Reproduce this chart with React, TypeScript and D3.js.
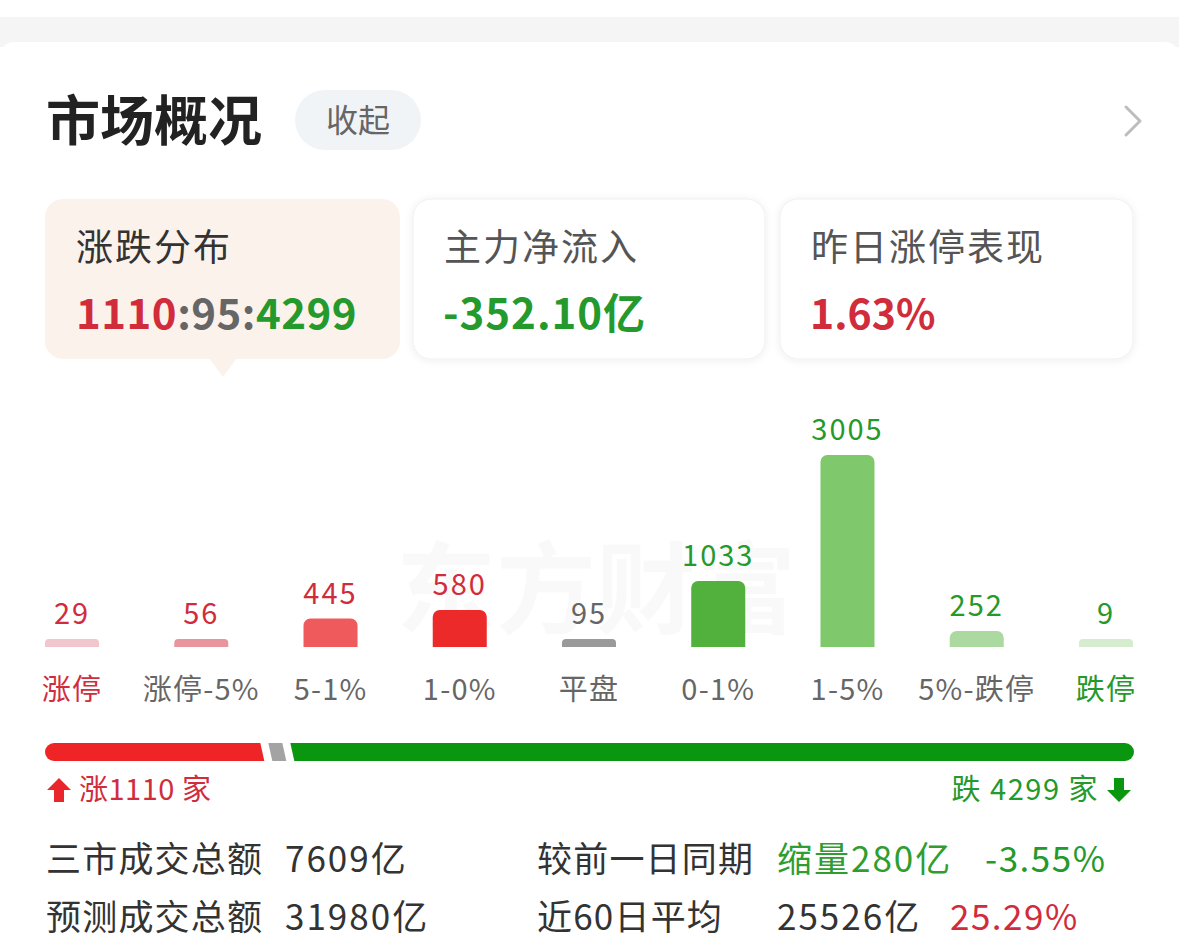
import React from "react";
import * as d3 from "d3";

// ---------- data ----------
const categories = ["涨停", "涨停-5%", "5-1%", "1-0%", "平盘", "0-1%", "1-5%", "5%-跌停", "跌停"];
const counts = [29, 56, 445, 580, 95, 1033, 3005, 252, 9];
const upCount = 1110;
const flatCount = 95;
const downCount = 4299;
const cardTitles = ["涨跌分布", "主力净流入", "昨日涨停表现"];
const netInflow = "-352.10亿";
const limitUpPerf = "1.63%";
const turnoverLabels = ["三市成交总额", "预测成交总额"];
const turnoverValues = ["7609亿", "31980亿"];
const compareLabels = ["较前一日同期", "近60日平均"];
const compareValues = ["缩量280亿", "25526亿"];
const comparePcts = ["-3.55%", "25.29%"];

// ---------- styles ----------
const FONT = "'Noto Sans CJK SC', 'Noto Sans', sans-serif";
const RED = "#d12c3c";
const GREEN = "#24992c";
const GRAY = "#666";
const barColors = ["#f2c6cd", "#e9959d", "#ef5b5d", "#ec2a2a", "#9a9a9a", "#52b03c", "#7fc96c", "#acd9a0", "#d5ecce"];
const valueColors = [RED, RED, RED, RED, GRAY, GREEN, GREEN, GREEN, GREEN];
const catColors = [RED, GRAY, GRAY, GRAY, GRAY, GRAY, GRAY, GRAY, GREEN];

const W = 1179;
const H = 952;

function topRounded(x: number, y: number, w: number, h: number, r: number) {
  const rr = Math.min(r, h / 2, w / 2);
  return `M${x},${y + h}V${y + rr}A${rr},${rr} 0 0 1 ${x + rr},${y}H${x + w - rr}A${rr},${rr} 0 0 1 ${x + w},${y + rr}V${y + h}Z`;
}

export default function App() {
  // bar chart scales
  const x = d3.scaleBand<string>().domain(categories).range([7.4, 1170.6]).paddingInner(0.582).paddingOuter(0.291);
  const baseY = 647;
  const h = d3.scaleLinear().domain([0, d3.max(counts) as number]).range([0, 192]);
  const minH = 8;

  // progress bar scale
  const gap = 8;
  const grayW = 14;
  const pbLeft = 45;
  const pbRight = 1134;
  const px = d3.scaleLinear().domain([0, upCount + downCount]).range([pbLeft, pbRight - 2 * gap - grayW]);
  const pbTop = 743;
  const pbH = 18;
  const slant = 4;
  const redEnd = px(upCount);
  const grayStart = redEnd + gap;
  const grayEnd = grayStart + grayW;
  const greenStart = grayEnd + gap;
  const greenEnd = px(upCount + downCount) + 2 * gap + grayW;
  const r = pbH / 2;

  const redPath = `M${pbLeft + r},${pbTop}H${redEnd - slant / 2}L${redEnd + slant / 2},${pbTop + pbH}H${pbLeft + r}A${r},${r} 0 0 1 ${pbLeft + r},${pbTop}Z`;
  const grayPath = `M${grayStart - slant / 2},${pbTop}H${grayEnd - slant / 2}L${grayEnd + slant / 2},${pbTop + pbH}H${grayStart + slant / 2}Z`;
  const greenPath = `M${greenStart - slant / 2},${pbTop}H${greenEnd - r}A${r},${r} 0 0 1 ${greenEnd - r},${pbTop + pbH}H${greenStart + slant / 2}Z`;

  const cards = [
    { x: 45, w: 355, bg: "#fcf2ec", shadow: false },
    { x: 413, w: 352, bg: "#fff", shadow: true },
    { x: 780, w: 353, bg: "#fff", shadow: true },
  ];

  return (
    <svg
      width={W}
      height={H}
      viewBox={`0 0 ${W} ${H}`}
      style={{ position: "absolute", left: 0, top: 0, display: "block", background: "#fff" }}
      fontFamily={FONT}
    >
      <defs>
        <filter id="sh" x="-10%" y="-10%" width="120%" height="130%">
          <feDropShadow dx="0" dy="1" stdDeviation="4" floodColor="#000" floodOpacity="0.07" />
        </filter>
      </defs>
      {/* top band */}
      <rect x={0} y={0} width={W} height={H} fill="#fff" />
      <rect x={0} y={17} width={W} height={30} fill="#f5f5f5" />
      <rect x={0} y={42} width={W} height={H} rx={14} fill="#fff" />

      {/* header */}
      <text x={46} y={141} fontSize={54} fontWeight={700} fill="#222">市场概况</text>
      <rect x={295} y={90} width={126} height={60} rx={30} fill="#f1f4f6" />
      <text x={358} y={132} fontSize={32} fill="#666" textAnchor="middle">收起</text>
      <polyline points="1126,107 1140,121 1126,135" fill="none" stroke="#bdbdbd" strokeWidth={3} strokeLinecap="round" strokeLinejoin="round" />

      {/* cards */}
      {cards.map((c, i) => (
        <rect key={i} x={c.x} y={199} width={c.w} height={160} rx={18} fill={c.bg}
          stroke={c.shadow ? "#efefef" : "none"} filter={c.shadow ? "url(#sh)" : undefined} />
      ))}
      <path d="M209,358 L223,377 L237,358 Z" fill="#fcf2ec" />
      {cardTitles.map((t, i) => (
        <text key={t} x={cards[i].x + 31} y={261} fontSize={37} letterSpacing={2} fill={i === 0 ? "#333" : "#555"}>{t}</text>
      ))}
      <text x={76} y={329} fontSize={42} fontWeight={600} letterSpacing={0.5}>
        <tspan fill={RED}>{upCount}</tspan>
        <tspan fill="#666">:{flatCount}:</tspan>
        <tspan fill={GREEN}>{downCount}</tspan>
      </text>
      <text x={443} y={329} fontSize={42} fontWeight={600} letterSpacing={1} fill={GREEN}>{netInflow}</text>
      <text x={810} y={329} fontSize={41} fontWeight={600} fill={RED}>{limitUpPerf}</text>

      {/* watermark */}
      <text x={596} y={626} fontSize={100} fontWeight={700} fill="#000" fillOpacity={0.025} textAnchor="middle">东方财富</text>

      {/* bars */}
      {categories.map((c, i) => {
        const bh = Math.max(minH, h(counts[i]));
        const bx = x(c) as number;
        const bw = x.bandwidth();
        const cx = bx + bw / 2;
        return (
          <g key={c}>
            <path d={topRounded(bx, baseY - bh, bw, bh, 7)} fill={barColors[i]} />
            <text x={cx} y={baseY - bh - 15} fontSize={29} fill={valueColors[i]} textAnchor="middle" letterSpacing={2}>{counts[i]}</text>
            <text x={cx} y={700} fontSize={29} fill={catColors[i]} textAnchor="middle" letterSpacing={1.2}>{c}</text>
          </g>
        );
      })}

      {/* progress bar */}
      <path d={redPath} fill="#ee2426" />
      <path d={grayPath} fill="#a3a3a3" />
      <path d={greenPath} fill="#0a960e" />

      {/* up / down labels */}
      <path d="M59,778 L71,790 L64,790 L64,802 L54,802 L54,790 L47,790 Z" fill="#e8262b" />
      <text x={79} y={800} fontSize={29} fill={RED} letterSpacing={0.5}>涨1110 家</text>
      <text x={1099} y={800} fontSize={29} fill={GREEN} textAnchor="end" letterSpacing={1.5}>跌 {downCount} 家</text>
      <path d="M1119,802 L1131,790 L1124,790 L1124,778 L1114,778 L1114,790 L1107,790 Z" fill="#0a960e" />

      {/* bottom stats */}
      {turnoverLabels.map((t, i) => (
        <g key={t} letterSpacing={1.2}>
          <text x={46} y={872 + i * 58} fontSize={35} fill="#333">{t}</text>
          <text x={285} y={872 + i * 58} fontSize={35} fill="#333" letterSpacing={2}>{turnoverValues[i]}</text>
          <text x={537} y={872 + i * 58} fontSize={35} fill="#333">{compareLabels[i]}</text>
          <text x={777} y={872 + i * 58} fontSize={35} fill={i === 0 ? "#2f9d30" : "#333"} letterSpacing={2}>{compareValues[i]}</text>
          <text x={i === 0 ? 985 : 950} y={872 + i * 58} fontSize={35} fill={i === 0 ? GREEN : RED} letterSpacing={1.5}>{comparePcts[i]}</text>
        </g>
      ))}
    </svg>
  );
}
